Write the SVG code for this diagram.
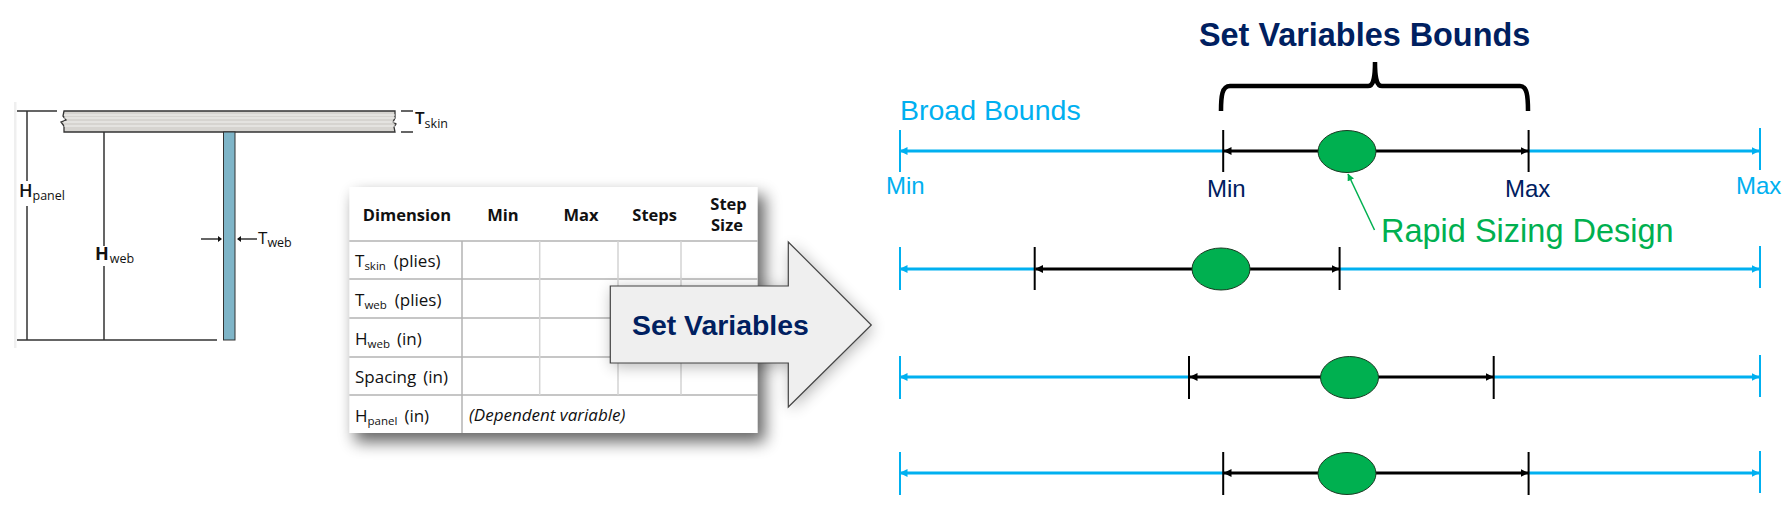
<svg xmlns="http://www.w3.org/2000/svg" width="1792" height="509" viewBox="0 0 1792 509">
<defs>
<marker id="ab" viewBox="0 0 8 8" refX="7.5" refY="4" markerWidth="8" markerHeight="8" markerUnits="userSpaceOnUse" orient="auto-start-reverse"><path d="M0 0L8 4L0 8z" fill="#000"/></marker>
<marker id="ac" viewBox="0 0 8 8" refX="7.5" refY="4" markerWidth="8" markerHeight="8" markerUnits="userSpaceOnUse" orient="auto-start-reverse"><path d="M0 0L8 4L0 8z" fill="#00B0F0"/></marker>
<marker id="ag" viewBox="0 0 8 8" refX="7.5" refY="4" markerWidth="7" markerHeight="7" markerUnits="userSpaceOnUse" orient="auto"><path d="M0 0L8 4L0 8z" fill="#00B050"/></marker>
<filter id="sh" x="-10%" y="-10%" width="125%" height="125%"><feGaussianBlur stdDeviation="8"/></filter>
</defs>
<style>
.ui{font-family:"Open Sans","Noto Sans",sans-serif;fill:#111}
.th{font-size:16.5px;font-weight:700;text-anchor:middle}
.td{font-size:17px}
.sub{font-size:11.5px}
.ar{font-family:"Liberation Sans",Arial,sans-serif}
.blue{fill:#00B0F0}
.navy{fill:#002060}
.cy{stroke:#00B0F0;fill:none}
.bk{stroke:#000;fill:none}
.grid{stroke:#d4d4d4;stroke-width:1.5;fill:none}
.grid2{stroke:#b4b4b4;stroke-width:1.5;fill:none}
.dot{fill:#00B050;stroke:#1a3a22;stroke-width:1}
.dim{stroke:#333;stroke-width:1.5;fill:none}
</style>
<rect width="1792" height="509" fill="#fff"/>

<g id="panel-drawing">
<rect x="14" y="102" width="2.5" height="246" fill="#efefef"/>
<path d="M64 111H395V118L393 122L396 124L394 127L395 132H64V126L61 122L66 120L63 116Z" fill="#d6d4d0" stroke="#333" stroke-width="1.3"/>
<path d="M64 115H395M64 118H395M64 122H395M64 126H395" stroke="#f2f2f0" stroke-width="1"/>
<rect x="223.500" y="132" width="11.500" height="208" fill="#7FB5C8" stroke="#333" stroke-width="1"/>
<path class="dim" d="M17 111H57M17 340H217M27 111V181M27 206V340M104 132V246M104 266V340M401 111H413M401 132H413"/>
<path class="dim" d="M201 239H221M257 239H238"/>
<path d="M218 236L222 239L218 242zM241 236L237 239L241 242z" fill="#111"/>
<text class="ui" x="19" y="197" font-size="18" font-weight="600">H<tspan dy="3" font-size="12.500" font-weight="400">panel</tspan></text>
<text class="ui" x="95" y="260" font-size="18" font-weight="700">H<tspan dx="1" dy="3" font-size="12.500" font-weight="400">web</tspan></text>
<text class="ui" x="415" y="124" font-size="17" font-weight="600">T<tspan dy="4" font-size="12.500" font-weight="400">skin</tspan></text>
<text class="ui" x="258" y="244" font-size="17" font-weight="400">T<tspan dy="3" font-size="12.500">web</tspan></text>
</g>

<g id="variables-table">
<rect x="355" y="195" width="410" height="247" fill="#000" opacity=".6" filter="url(#sh)"/>
<rect x="349.300" y="187" width="408.400" height="246" fill="#fff"/>
<path class="grid2" d="M349.300 241H757.700M349.300 279H757.700M349.300 318H757.700M349.300 357H757.700M349.300 395H757.700M462 241V433"/>
<path class="grid" d="M539.700 241V395M618 241V395M681 241V395"/>
<text class="ui th" x="407" y="221">Dimension</text>
<text class="ui th" x="503" y="221">Min</text>
<text class="ui th" x="581" y="221">Max</text>
<text class="ui th" x="654.700" y="221">Steps</text>
<text class="ui th" x="728.600" y="210">Step</text>
<text class="ui th" x="727" y="231">Size</text>
<text class="ui td" x="355" y="267">T<tspan class="sub" dy="3">skin</tspan><tspan dy="-3" dx="8">(plies)</tspan></text>
<text class="ui td" x="355" y="306">T<tspan class="sub" dy="3">web</tspan><tspan dy="-3" dx="8">(plies)</tspan></text>
<text class="ui td" x="355" y="345">H<tspan class="sub" dy="3">web</tspan><tspan dy="-3" dx="7">(in)</tspan></text>
<text class="ui td" x="355" y="383">Spacing<tspan dx="7">(in)</tspan></text>
<text class="ui td" x="355" y="422">H<tspan class="sub" dy="3">panel</tspan><tspan dy="-3" dx="7">(in)</tspan></text>
<text class="ui" x="469" y="421" font-size="17" font-style="italic">(Dependent variable)</text>
</g>

<g id="set-variables-arrow">
<path d="M610.300 286H788.300V242L871.300 325L788.300 407V363H610.300Z" fill="#000" opacity=".3" filter="url(#sh)" transform="translate(2 3)"/>
<path d="M610.300 286H788.300V242L871.300 325L788.300 407V363H610.300Z" fill="#efefef" stroke="#444" stroke-width="1.2"/>
<text class="ar navy" x="632" y="334.500" font-size="28.400" font-weight="700">Set Variables</text>
</g>

<g id="connectors">
<g class="cy" stroke-width="3">
<path d="M900 151H1223M1528.600 151H1759" marker-start="url(#ac)" marker-end="url(#ac)"/>
<path d="M900 269H1034.700M1339.600 269H1759" marker-start="url(#ac)" marker-end="url(#ac)"/>
<path d="M900 377H1189M1493.700 377H1759" marker-start="url(#ac)" marker-end="url(#ac)"/>
<path d="M900 473H1223M1528.600 473H1759" marker-start="url(#ac)" marker-end="url(#ac)"/>
</g>
<g class="cy" stroke-width="2">
<path d="M900 130V172M1760 128V170M900 247V290M1760 246V288M900 356V399M1760 355V397M900 452V495M1760 451V493"/>
</g>
<g class="bk" stroke-width="3">
<path d="M1224 151H1528" marker-start="url(#ab)" marker-end="url(#ab)"/>
<path d="M1035.500 269H1339" marker-start="url(#ab)" marker-end="url(#ab)"/>
<path d="M1190 377H1493" marker-start="url(#ab)" marker-end="url(#ab)"/>
<path d="M1224 473H1528" marker-start="url(#ab)" marker-end="url(#ab)"/>
</g>
<g class="bk" stroke-width="2">
<path d="M1223.200 130V172M1528.600 130V172M1034.700 247V290M1339.600 247V290M1189 356V399M1493.700 356V399M1223.200 452V495M1528.600 452V495"/>
</g>
<path d="M1374.500 230L1348 174" stroke="#00B050" stroke-width="1.5" fill="none" marker-end="url(#ag)"/>
<path id="bounds-brace" d="M1221 111C1221 96 1222 86 1230 86H1368C1373 86 1375 80 1375 62C1375 80 1377 86 1382 86H1520C1527 86 1528 96 1528 111" fill="none" stroke="#000" stroke-width="4.500"/>
</g>

<g id="design-1"><ellipse class="dot" cx="1347" cy="151.500" rx="29" ry="21"/></g>
<g id="design-2"><ellipse class="dot" cx="1221" cy="269" rx="29" ry="21"/></g>
<g id="design-3"><ellipse class="dot" cx="1349.500" cy="377.500" rx="29" ry="21"/></g>
<g id="design-4"><ellipse class="dot" cx="1347" cy="473.500" rx="29" ry="21"/></g>

<g id="labels">
<text class="ar navy" x="1199" y="46" font-size="32.400" font-weight="700">Set Variables Bounds</text>
<text class="ar blue" x="900" y="120" font-size="28.500">Broad Bounds</text>
<text class="ar blue" x="886" y="194" font-size="24">Min</text>
<text class="ar navy" x="1207" y="197" font-size="24">Min</text>
<text class="ar navy" x="1505" y="197" font-size="24">Max</text>
<text class="ar blue" x="1736" y="194" font-size="24">Max</text>
<text class="ar" x="1381" y="242" font-size="32.500" fill="#00B050">Rapid Sizing Design</text>
</g>
</svg>
